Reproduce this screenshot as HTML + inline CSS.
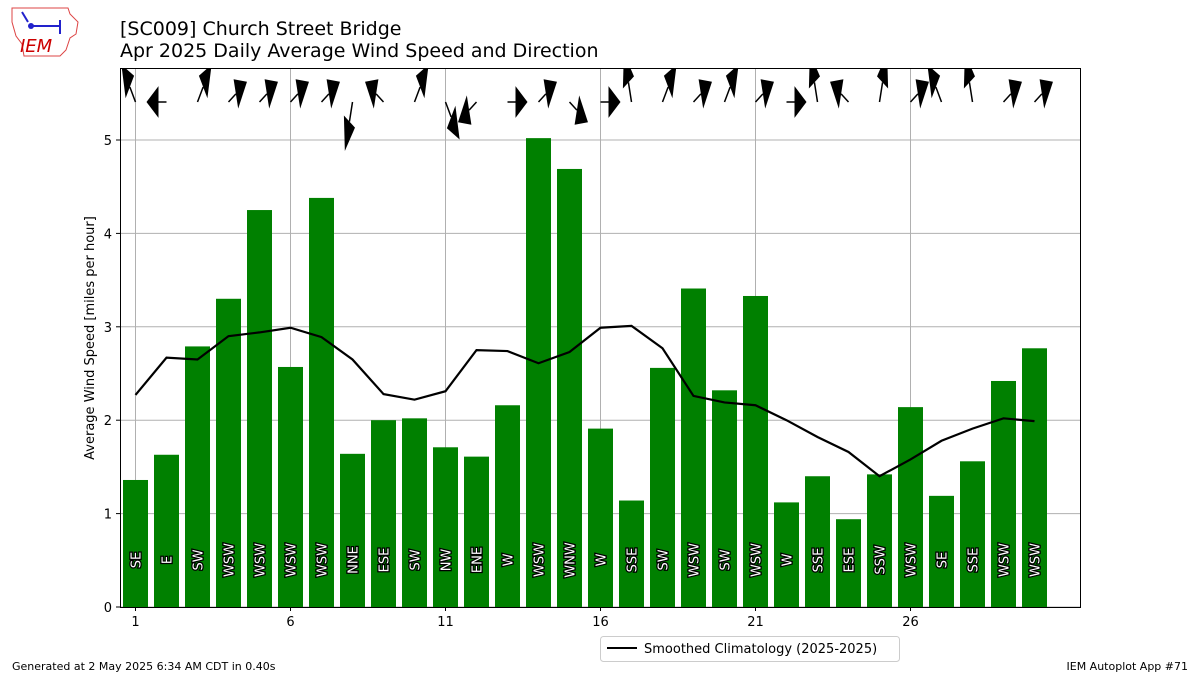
<!DOCTYPE html>
<html><head><meta charset="utf-8"><style>
body{margin:0;background:#fff;font-family:"Liberation Sans","DejaVu Sans",sans-serif}
svg text{font-family:"DejaVu Sans","Liberation Sans",sans-serif}
</style></head><body>
<svg id="c" width="1200" height="675" xmlns="http://www.w3.org/2000/svg">
<defs><clipPath id="pc"><rect x="120" y="68" width="960" height="539"/></clipPath></defs>
<rect width="1200" height="675" fill="#fff"/>
<g>
<path d="M12 8 L68 8 L70 14 L78 22 L76 34 L70 38 L66 50 L60 56 L24 56 L22 44 L16 36 L12 22 Z" fill="none" stroke="#d44" stroke-width="1"/>
<text x="20" y="52" font-family="Liberation Serif" font-style="italic" font-size="18" fill="#c00">IEM</text>
<path d="M30 26 L60 26 M60 20 L60 34 M22 12 L28 22" stroke="#22c" stroke-width="2" fill="none"/>
<circle cx="31" cy="26" r="3" fill="#22c"/>
</g>
<text x="120" y="35" font-size="19">[SC009] Church Street Bridge</text>
<text x="120" y="57" font-size="19">Apr 2025 Daily Average Wind Speed and Direction</text>
<g id="grid"></g><g id="bars"></g><g id="clim"></g><g id="barbs" clip-path="url(#pc)"></g><g id="axes"></g>
<rect x="120.5" y="68.5" width="960" height="539" fill="none" stroke="#000" stroke-width="1"/>
<text x="94" y="338" font-size="13" text-anchor="middle" transform="rotate(-90 94 338)">Average Wind Speed [miles per hour]</text>
<g>
<rect x="600.5" y="636.5" width="299" height="25" rx="3" fill="#fff" stroke="#ccc"/>
<line x1="607" y1="648" x2="637" y2="648" stroke="#000" stroke-width="2"/>
<text x="644" y="653" font-size="13">Smoothed Climatology (2025-2025)</text>
</g>
<text x="12" y="670" font-size="11">Generated at 2 May 2025 6:34 AM CDT in 0.40s</text>
<text x="1188" y="670" font-size="11" text-anchor="end">IEM Autoplot App #71</text>
</svg>
<script>
const days=[1,2,3,4,5,6,7,8,9,10,11,12,13,14,15,16,17,18,19,20,21,22,23,24,25,26,27,28,29,30];
const speeds=[1.36,1.63,2.79,3.30,4.25,2.57,4.38,1.64,2.00,2.02,1.71,1.61,2.16,5.02,4.69,1.91,1.14,2.56,3.41,2.32,3.33,1.12,1.40,0.94,1.42,2.14,1.19,1.56,2.42,2.77];
const dirs=["SE","E","SW","WSW","WSW","WSW","WSW","NNE","ESE","SW","NW","ENE","W","WSW","WNW","W","SSE","SW","WSW","SW","WSW","W","SSE","ESE","SSW","WSW","SE","SSE","WSW","WSW"];
const clim=[2.27,2.67,2.65,2.90,2.94,2.99,2.89,2.65,2.28,2.22,2.31,2.75,2.74,2.61,2.73,2.99,3.01,2.77,2.26,2.19,2.16,2.00,1.82,1.66,1.40,1.58,1.78,1.91,2.02,1.99];
const xTicks=[1,6,11,16,21,26];
const yTicks=[0,1,2,3,4,5];
const NS="http://www.w3.org/2000/svg";
const X=d=>135.5+(d-1)*31, Y=v=>607-v*93.4;
function mk(t,a,p){const e=document.createElementNS(NS,t);for(const k in a)e.setAttribute(k,a[k]);document.getElementById(p).appendChild(e);return e;}
xTicks.forEach(t=>{
 const g=mk('line',{x1:X(t),x2:X(t),y1:68,y2:607,stroke:'#b0b0b0','stroke-width':1},'grid');
 
 
 mk('line',{x1:X(t),x2:X(t),y1:607,y2:611,stroke:'#000'},'axes');
 const l=mk('text',{x:X(t),y:626,'font-size':13,'text-anchor':'middle'},'axes');l.textContent=t;
 
 
});
yTicks.forEach(t=>{
 const g=mk('line',{x1:120,x2:1080,y1:Y(t),y2:Y(t),stroke:'#b0b0b0','stroke-width':1},'grid');
 
 
 mk('line',{x1:116,x2:120,y1:Y(t),y2:Y(t),stroke:'#000'},'axes');
 const l=mk('text',{x:112,y:Y(t)+5,'font-size':13,'text-anchor':'end'},'axes');l.textContent=t;
 
 
});
const ang={N:0,NNE:22.5,NE:45,ENE:67.5,E:90,ESE:112.5,SE:135,SSE:157.5,S:180,SSW:202.5,SW:225,WSW:247.5,W:270,WNW:292.5,NW:315,NNW:337.5};
const KX=20, KY=53;
days.forEach((d,i)=>{
 const b=mk('rect',{x:X(d)-12.5,y:Y(speeds[i]),width:25,height:607-Y(speeds[i]),fill:'#008000'},'bars');
 
 
 const t=mk('text',{x:0,y:0,'font-size':13,fill:'#fff',stroke:'#000','stroke-width':2.5,'paint-order':'stroke','text-anchor':'middle',transform:`translate(${X(d)+5},560) rotate(-90)`},'bars');
 t.textContent=dirs[i];
 
 
 const a=(ang[dirs[i]]+180)*Math.PI/180;
 const ux=Math.sin(a), uy=Math.cos(a);
 const lx=-uy, ly=ux;
 const P=(s,p)=>[X(d)+(ux*s+lx*p)*KX, 102-(uy*s+ly*p)*KY];
 const g=mk('g',{},'barbs');
 
 
 const A=P(0,0),B=P(0.4,0),T=P(1,0),L=P(0.4,0.3),R=P(0.4,-0.3);
 const s=document.createElementNS(NS,'line');
 s.setAttribute('x1',A[0]);s.setAttribute('y1',A[1]);s.setAttribute('x2',B[0]);s.setAttribute('y2',B[1]);
 s.setAttribute('stroke','#000');s.setAttribute('stroke-width',1.5);g.appendChild(s);
 const f=document.createElementNS(NS,'polygon');
 f.setAttribute('points',`${T} ${L} ${R}`);f.setAttribute('fill','#000');g.appendChild(f);
});
const pts=days.map((d,i)=>X(d)+','+Y(clim[i])).join(' ');
const pl=mk('polyline',{points:pts,fill:'none',stroke:'#000','stroke-width':2.2},'clim');


</script>
</body></html>
